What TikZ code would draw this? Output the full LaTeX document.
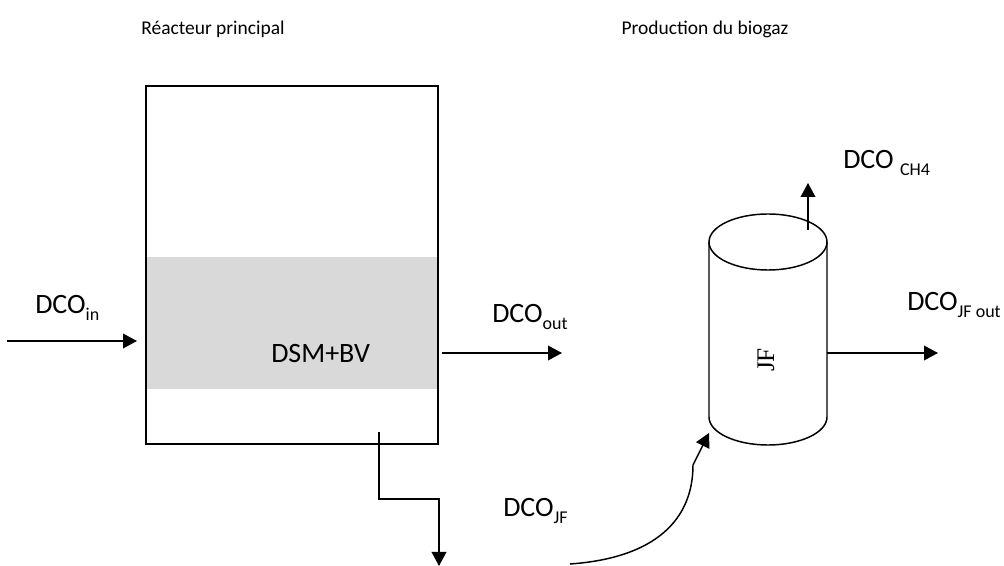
\documentclass[tikz,border=0pt]{standalone}
\usepackage{fontspec}
\setmainfont{Carlito}
\newfontfamily\jffont{Liberation Serif}
\usetikzlibrary{arrows.meta}
\definecolor{gris}{HTML}{D9D9D9}
\newcommand{\indice}[1]{\raisebox{-0.22em}{\fontsize{13.5}{14}\selectfont #1}}
\tikzset{
  titre/.style={inner sep=0pt,anchor=base,font=\fontsize{14.6}{17}\selectfont},
  etiq/.style={inner sep=0pt,anchor=base west,font=\fontsize{21}{24}\selectfont},
  flux/.style={->,line width=1.1pt},
}

\begin{document}
\begin{tikzpicture}[x=0.75pt,y=-0.75pt,>={Triangle[length=10.5pt,width=11pt]}]
\useasboundingbox (0,0) rectangle (1004,566);
% titres
\node[titre] (tReact) at (213,35) {Réacteur principal};
\node[titre] (tBio) at (705,35) {Production du biogaz};
% reacteur principal
\node[fill=gris,minimum width=219pt,minimum height=99pt,inner sep=0pt] (boue) at (292,323) {};
\node[draw,line width=1.4pt,minimum width=219pt,minimum height=268.5pt,inner sep=0pt] (reacteur) at (292,265) {};
\node[etiq] (dsm) at (271,363) {DSM+BV};
% jus fermente
\draw[line width=1.1pt] (709,242) -- (709,417) arc[start angle=180,end angle=0,x radius=59,y radius=28] -- (827,242);
\draw[line width=1.1pt] (768,242) ellipse[x radius=59,y radius=28];
\node[font=\jffont\fontsize{19}{20}\selectfont,rotate=90,inner sep=0pt] (jf) at (766,360) {JF};
% entree
\coordinate (inA) at (7,341);
\coordinate (inB) at (137,341);
\draw[flux] (inA) -- (inB);
\node[etiq] (dcoIn) at (35,314) {DCO\indice{in}};
% sortie
\coordinate (outA) at (442,353);
\coordinate (outB) at (562,353);
\draw[flux] (outA) -- (outB);
\node[etiq] (dcoOut) at (492,323) {DCO\indice{out}};
% purge vers JF
\coordinate (purge) at (379,432);
\coordinate (purgeB) at (439,566);
\draw[flux] (purge) -- (379,499) -| (purgeB);
\node[etiq] (dcoJF) at (503,517) {DCO\indice{JF}};
\coordinate (alimA) at (570,564);
\coordinate (alimB) at (709,433);
\draw[flux] (alimA) .. controls (655,558) and (693,520) .. (693,465) -- (alimB);
% biogaz
\coordinate (ch4A) at (808,230);
\coordinate (ch4B) at (808,183);
\draw[flux] (ch4A) -- (ch4B);
\node[etiq] (dcoCH4) at (843,169) {DCO \indice{CH4}};
\coordinate (jfA) at (827,353);
\coordinate (jfB) at (938,353);
\draw[flux] (jfA) -- (jfB);
\node[etiq] (dcoJFout) at (907,311) {DCO\indice{JF out}};
\end{tikzpicture}
\end{document}
